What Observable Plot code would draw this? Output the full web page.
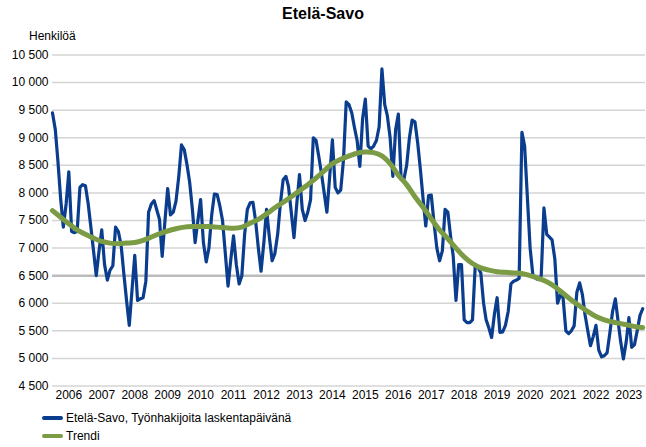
<!DOCTYPE html>
<html><head><meta charset="utf-8">
<script src="https://cdn.jsdelivr.net/npm/d3@7"></script>
<script src="https://cdn.jsdelivr.net/npm/@observablehq/plot@0.6"></script>
<style>
body{margin:0;background:#fff;font-family:"Liberation Sans",Arial,sans-serif;color:#000;}
#wrap{position:relative;width:646px;height:447px;overflow:hidden;background:#fff;}
#title{position:absolute;left:0;top:5px;width:646px;text-align:center;font-weight:bold;font-size:16px;z-index:2;}
#ylab{position:absolute;left:29px;top:29px;font-size:12px;z-index:2;}
#chart{position:absolute;left:0;top:28px;z-index:1;}
#legend{position:absolute;left:42px;top:409px;font-size:12px;z-index:2;}
.item{display:flex;align-items:center;height:18px;}
.sw{width:21px;height:4px;border-radius:2px;margin-right:3px;}
</style></head>
<body>
<div id="wrap">
  <div id="title">Etelä-Savo</div>
  <div id="ylab">Henkilöä</div>
  <div id="chart"></div>
  <div id="legend"></div>
</div>
<script>
// Monthly values Jan 2006 – Dec 2023 (one row per year)
const startYear = 2006;
const seriesName = "Etelä-Savo, Työnhakijoita laskentapäivänä";
const trendName = "Trendi";
const jobSeekers = [
  9450,9150,8600,7900,7380,7800,8380,7300,7280,7300,8100,8150,
  8130,7800,7400,6950,6500,6950,7330,6700,6420,6600,6680,7380,
  7300,7050,6550,6050,5600,6250,6870,6050,6080,6100,6400,7650,
  7800,7860,7700,7520,6850,7500,8080,7600,7650,7850,8300,8870,
  8780,8500,8200,7700,7100,7500,7880,7100,6750,7000,7600,7980,
  7970,7750,7500,6900,6310,6800,7220,6700,6350,6500,7250,7700,
  7820,7830,7500,7000,6580,7100,7700,7200,6770,6900,7250,7800,
  8240,8300,8120,7650,7190,7800,8330,7700,7500,7650,7880,9000,
  8950,8650,8360,8000,7650,8300,8960,8100,8000,8050,8600,9650,
  9600,9450,9200,8950,8480,9350,9700,8850,8800,8850,8950,9200,
  10250,9600,9400,9000,8300,9150,9430,8250,8250,8500,9000,9320,
  9290,8900,8450,7900,7400,7950,7960,7450,7000,6770,6950,7700,
  7650,7200,6860,6050,6700,6700,5700,5650,5650,5700,6700,6650,
  6550,6000,5700,5550,5380,5800,6100,5470,5480,5600,5850,6350,
  6400,6420,6450,9100,8850,7900,7000,6500,6450,6430,6500,7730,
  7250,7200,7150,6800,6000,6150,6100,5500,5450,5500,5590,6200,
  6370,6150,5800,5500,5230,5400,5600,5150,5030,5050,5100,5450,
  5850,6080,5700,5300,4990,5300,5740,5200,5250,5500,5780,5900
];
// Trend read every third month (Jan, Apr, Jul, Oct), plus last month
const trendMonthIndex = [...d3.range(0, 216, 3), 215];
const trendValues = [
  7680,7560,7440,7330,7250,7180,7120,7090,7080,7090,7100,7140,
  7200,7260,7310,7350,7380,7390,7390,7390,7380,7370,7360,7380,
  7450,7520,7620,7730,7830,7930,8040,8150,8270,8400,8530,8610,
  8670,8720,8740,8730,8670,8530,8320,8150,7930,7740,7530,7330,
  7170,7000,6840,6720,6640,6600,6570,6560,6550,6540,6500,6450,
  6390,6300,6180,6060,5950,5850,5760,5700,5660,5630,5600,5570,
  5560
];
const yTicks = [4500,5000,5500,6000,6500,7000,7500,8000,8500,9000,9500,10000,10500];
const yearLabels = d3.range(2006, 2024);
const highlightLine = [6500];

const blue = "#0b3d8e";
const green = "#7b9b45";

const series = jobSeekers.map((v, i) => ({date: new Date(Date.UTC(startYear, i, 1)), value: v}));
const trend = trendValues.map((v, i) => ({date: new Date(Date.UTC(startYear, trendMonthIndex[i], 1)), value: v}));
const fmt = d => d3.format(",")(d).replace(",", " ");

const chart = Plot.plot({
  width: 646,
  height: 377,
  marginLeft: 52,
  marginRight: 1,
  marginTop: 26.5,
  marginBottom: 19.5,
  style: {fontFamily: "'Liberation Sans', Arial, sans-serif", fontSize: "12px", color: "#000", background: "transparent"},
  x: {type: "utc", domain: [new Date(Date.UTC(2006,0,1)), new Date(Date.UTC(2024,0,1))]},
  y: {domain: [4500, 10500]},
  marks: [
    Plot.ruleY(yTicks, {stroke: "#d4d4d4", strokeWidth: 1.5}),
    Plot.ruleY(highlightLine, {stroke: "#bcbcbc", strokeWidth: 2.5}),
    Plot.axisY({ticks: yTicks, tickSize: 0, tickPadding: 4, tickFormat: fmt, label: null, fontSize: 12}),
    Plot.axisX({ticks: yearLabels.map(y => new Date(Date.UTC(y, 6, 1))), tickSize: 0, tickPadding: 4,
      tickFormat: d => String(d.getUTCFullYear()), label: null, fontSize: 12}),
    Plot.line(series, {x: "date", y: "value", stroke: blue, strokeWidth: 3.2, strokeLinejoin: "round"}),
    Plot.line(trend, {x: "date", y: "value", stroke: green, strokeWidth: 5, curve: "catmull-rom", strokeLinecap: "round"})
  ]
});
document.getElementById("chart").appendChild(chart);

const legend = document.getElementById("legend");
[[seriesName, blue], [trendName, green]].forEach(([name, col]) => {
  const it = document.createElement("div");
  it.className = "item";
  const sw = document.createElement("span");
  sw.className = "sw";
  sw.style.background = col;
  const tx = document.createElement("span");
  tx.textContent = name;
  it.appendChild(sw); it.appendChild(tx);
  legend.appendChild(it);
});
</script>
</body></html>
